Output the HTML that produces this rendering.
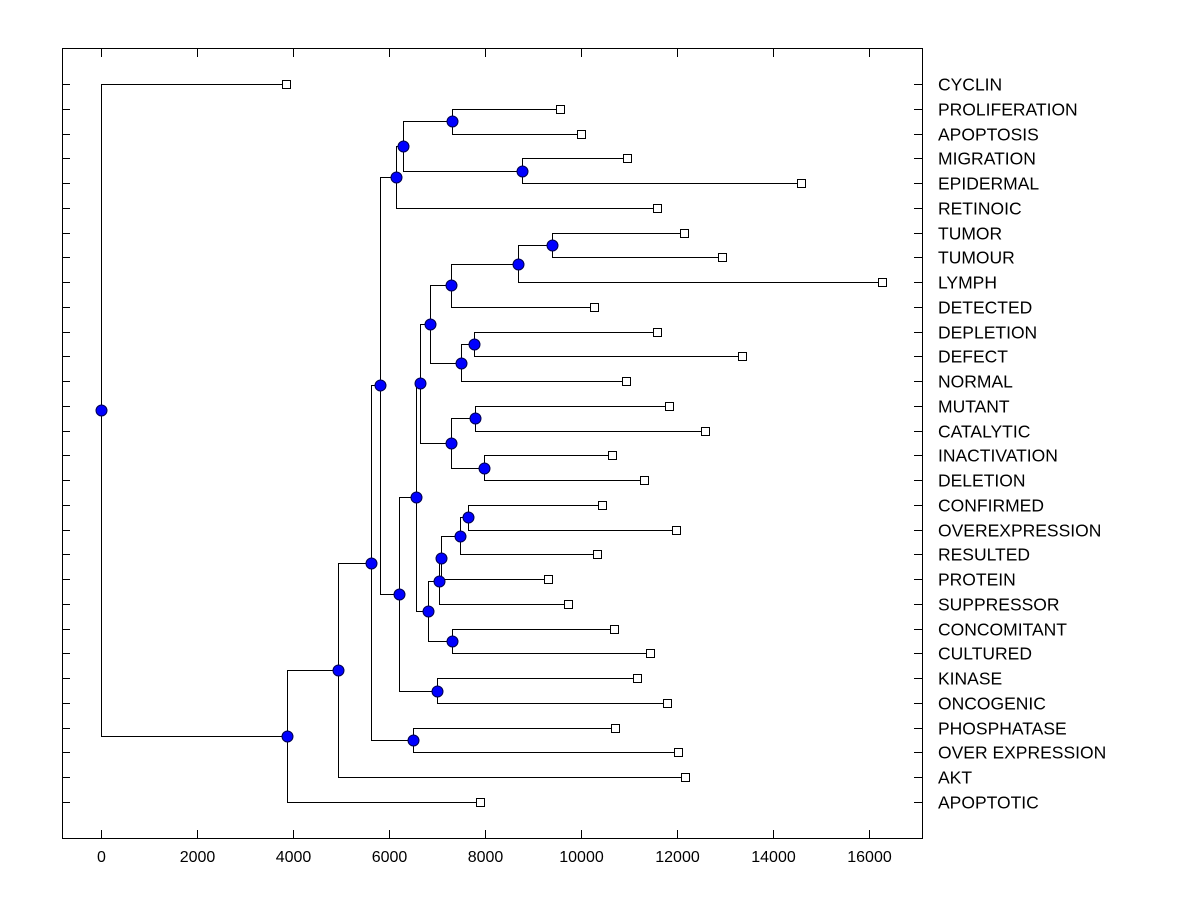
<!DOCTYPE html>
<html><head><meta charset="utf-8"><style>
body{margin:0;background:#fff;}
svg text{font-family:"Liberation Sans",Arial,sans-serif;fill:#000;}
</style></head><body>
<svg id="chart" width="1200" height="900" xmlns="http://www.w3.org/2000/svg">
<rect x="0" y="0" width="1200" height="900" fill="#fff"/>
<rect x="62.5" y="48.5" width="860" height="790" fill="none" stroke="#000" stroke-width="1"/>
<g id="axes"></g><g id="links"></g><g id="marks"></g><g id="labels"></g>
</svg>
<script>
const leafNames = ["CYCLIN","PROLIFERATION","APOPTOSIS","MIGRATION","EPIDERMAL","RETINOIC","TUMOR","TUMOUR","LYMPH","DETECTED","DEPLETION","DEFECT","NORMAL","MUTANT","CATALYTIC","INACTIVATION","DELETION","CONFIRMED","OVEREXPRESSION","RESULTED","PROTEIN","SUPPRESSOR","CONCOMITANT","CULTURED","KINASE","ONCOGENIC","PHOSPHATASE","OVER EXPRESSION","AKT","APOPTOTIC"];
const leafValues = [3854,9563,10000,10958,14583,11583,12146,12938,16271,10271,11583,13354,10938,11833,12583,10646,11313,10438,11979,10333,9313,9729,10688,11438,11167,11792,10708,12021,12167,7896];
// internal nodes: [id, height, childA, childB]  (children: leaf index as number or node id as string)
const nodeIds     = ["I","J","H","F","T","S","Q","U","R","O","V","W","P","M","AB","AA","Z","X","Y","N","K","L","G","D","E","C","B","A","root"];
const nodeHeights = [7313,8771,6292,6146,9396,8688,7292,7771,7500,6854,7792,7979,7292,6646,7646,7479,7083,7042,7313,6813,6563,7000,6208,5813,6500,5625,4938,3875,0];
const nodeChildA  = [1,3,"I","H",6,"T","S",10,"U","Q",13,15,"V","O",17,"AB","AA","Z",22,"X","M",24,"K","F",26,"D","C","B",0];
const nodeChildB  = [2,4,"J",5,7,8,9,11,12,"R",14,16,"W","P",18,19,20,21,23,"Y","N",25,"L","G",27,"E",28,29,"A"];
const xTicks = [0,2000,4000,6000,8000,10000,12000,14000,16000];

const NS="http://www.w3.org/2000/svg";
const X0=101, PXU=0.048;
const xs=v=>X0+v*PXU;
const ys=i=>84+i*(802-84)/(leafNames.length-1);
function mk(tag,attrs,parent){const e=document.createElementNS(NS,tag);for(const k in attrs)e.setAttribute(k,attrs[k]);parent.appendChild(e);return e;}
const axes=document.getElementById('axes'),links=document.getElementById('links'),marks=document.getElementById('marks'),labels=document.getElementById('labels');

xTicks.forEach(t=>{
  const x=Math.round(xs(t))+0.5;
  const l=mk('line',{x1:x,x2:x,y1:838,y2:830,stroke:'#000'},axes);
  
  
  const l2=mk('line',{x1:x,x2:x,y1:49,y2:57,stroke:'#000'},axes);
  
  
  const tx=mk('text',{x:x,y:862,'font-size':16,'text-anchor':'middle'},axes);
  tx.textContent=t;
  
  
});
leafNames.forEach((n,i)=>{
  const y=Math.round(ys(i))+0.5;
  const a=mk('line',{x1:62,x2:70,y1:y,y2:y,stroke:'#000'},axes);
  
  
  const b=mk('line',{x1:914,x2:922,y1:y,y2:y,stroke:'#000'},axes);
  
  
  const t=mk('text',{x:938,y:y+6,'font-size':17.5},labels);
  t.textContent=n;
  
  
});
const pos={};
function getPos(c){return typeof c==='number'?{x:xs(leafValues[c]),y:ys(c)}:pos[c];}
nodeIds.forEach((id,k)=>{
  const a=getPos(nodeChildA[k]),b=getPos(nodeChildB[k]);
  pos[id]={x:xs(nodeHeights[k]),y:(a.y+b.y)/2};
});
const circles=[];
nodeIds.forEach((id,k)=>{
  const p=pos[id];const a=getPos(nodeChildA[k]),b=getPos(nodeChildB[k]);
  const px=Math.round(p.x)+0.5;
  const d=`M${Math.round(a.x)+0.5},${Math.round(a.y)+0.5}H${px}V${Math.round(b.y)+0.5}H${Math.round(b.x)+0.5}`;
  const pa=mk('path',{d:d,fill:'none',stroke:'#000','stroke-width':1},links);
  
  
  circles.push(p);
});
leafNames.forEach((n,i)=>{
  const p=getPos(i);
  const r=mk('rect',{x:Math.round(p.x)-3.5,y:Math.round(p.y)-3.5,width:8,height:8,fill:'#fff',stroke:'#000'},marks);
  
  
});
circles.forEach(p=>{
  const c=mk('circle',{cx:Math.round(p.x)+0.5,cy:Math.round(p.y)+0.5,r:5.5,fill:'#0000ff',stroke:'#000050','stroke-width':1},marks);
  
  
});
</script>
</body></html>
